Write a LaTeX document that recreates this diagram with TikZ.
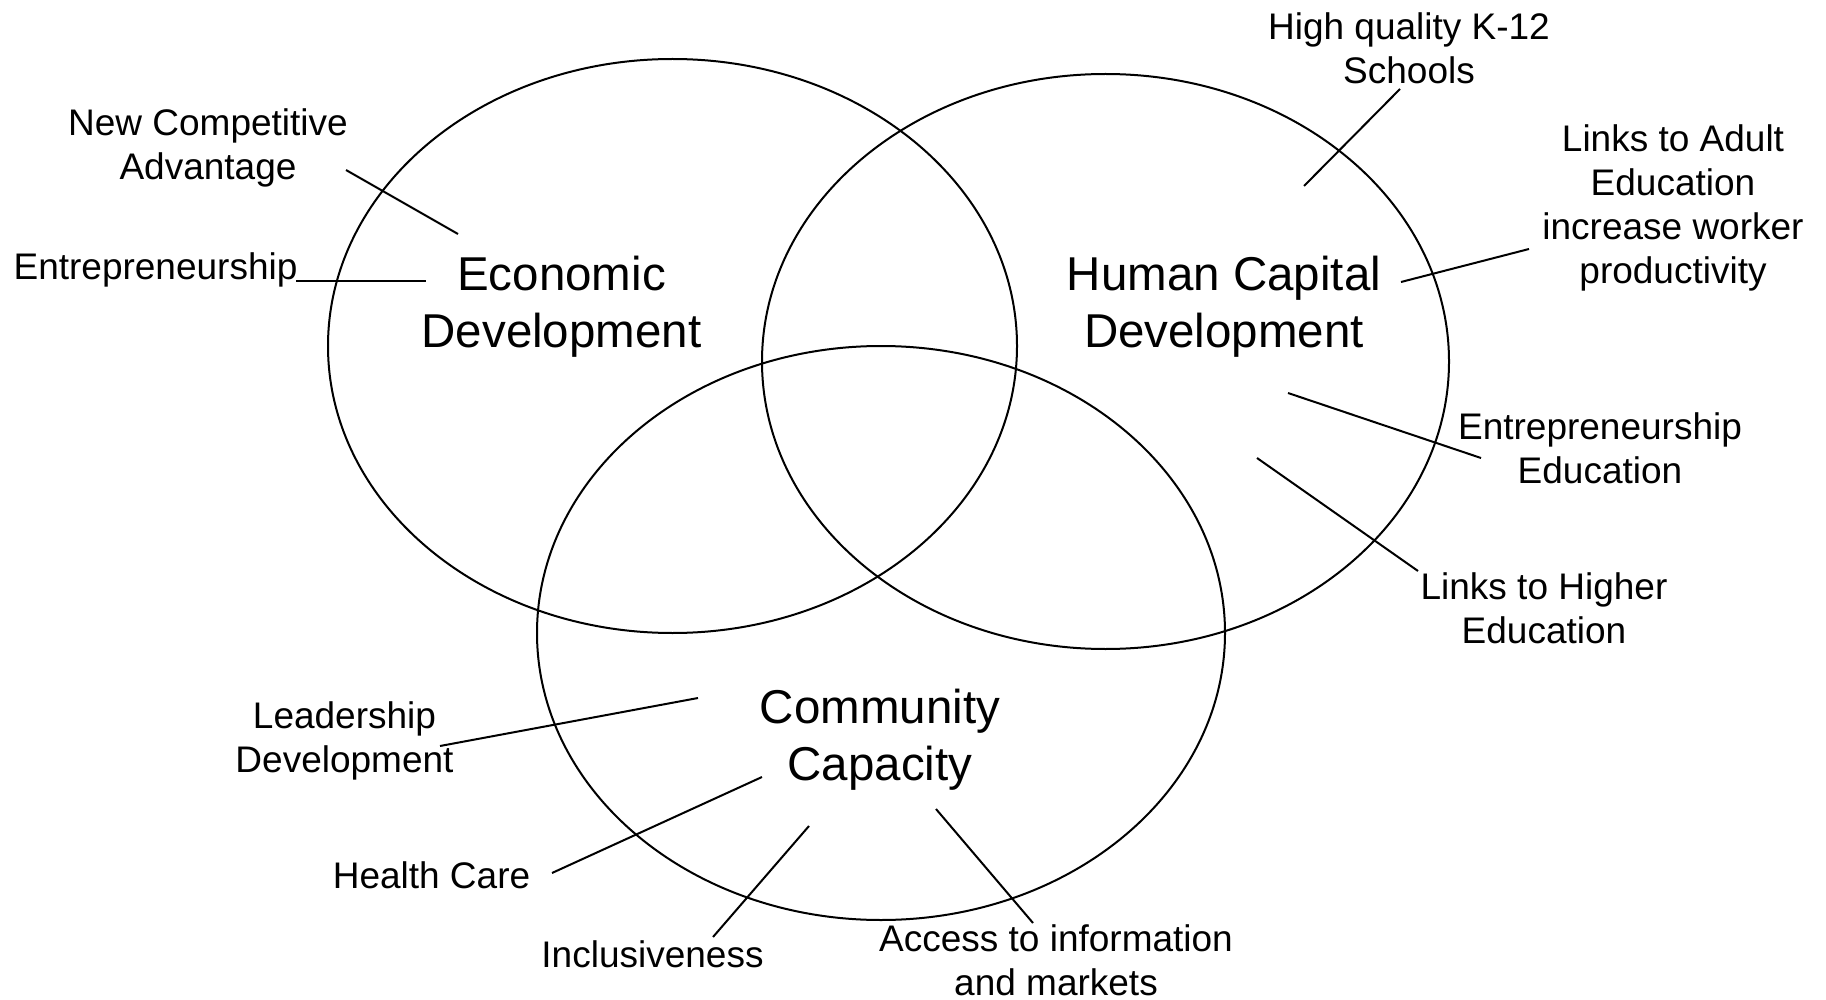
\documentclass[tikz,border=0pt]{standalone}
\usepackage{fontspec}
\setmainfont{Liberation Sans}
\begin{document}
\begin{tikzpicture}[x=1pt,y=-1pt,
  circ/.style={draw=black,line width=2pt},
  lead/.style={draw=black,line width=2pt},
  small/.style={inner sep=0pt,align=center,font=\fontsize{37}{44}\selectfont},
  big/.style={inner sep=0pt,align=center,font=\fontsize{47.5}{57}\selectfont}]
\useasboundingbox[fill=white] (0,0) rectangle (1826,1000);
% circles
\draw[circ] (672.5,346) ellipse [x radius=344.5pt, y radius=287pt];
\draw[circ] (1105.5,361.5) ellipse [x radius=343.5pt, y radius=287.5pt];
\draw[circ] (881,633) ellipse [x radius=344pt, y radius=287pt];
% main labels
\node[big] (eco) at (561.5,307.1) {\strut Economic\\\strut Development};
\node[big] (hum) at (1224,308.1) {\strut Human Capital\\\strut Development};
\node[big] (com) at (880,740.1) {\strut Community\\\strut Capacity};
% outer labels
\node[small] (nca) at (208,148.7) {\strut New Competitive\\\strut Advantage};
\node[small] (ent) at (155.5,271.2) {\strut Entrepreneurship};
\node[small] (k12) at (1409,52.7) {\strut High quality K-12\\\strut Schools};
\node[small] (adult) at (1673,209.2) {\strut Links to Adult\\\strut Education\\\strut increase worker\\\strut productivity};
\node[small] (eed) at (1600,452.7) {\strut Entrepreneurship\\\strut Education};
\node[small] (hig) at (1544,612.7) {\strut Links to Higher\\\strut Education};
\node[small] (lea) at (344.5,741.2) {\strut Leadership\\\strut Development};
\node[small] (hea) at (431.5,879.2) {\strut Health Care};
\node[small] (inc) at (652.5,958.2) {\strut Inclusiveness};
\node[small] (acc) at (1056,960.5) {Access to information\\and markets};
% connector end points
\coordinate (nca1) at (346,170);  \coordinate (nca2) at (458,234);
\coordinate (ent1) at (296,281);  \coordinate (ent2) at (426,281);
\coordinate (k121) at (1400,89);  \coordinate (k122) at (1304,186);
\coordinate (adu1) at (1529,249); \coordinate (adu2) at (1401,282);
\coordinate (eed1) at (1481,458); \coordinate (eed2) at (1288,393);
\coordinate (hig1) at (1418,571); \coordinate (hig2) at (1257,458);
\coordinate (lea1) at (440,746);  \coordinate (lea2) at (698,698);
\coordinate (hea1) at (552,873);  \coordinate (hea2) at (762,777);
\coordinate (inc1) at (713,937);  \coordinate (inc2) at (809,826);
\coordinate (acc1) at (1033,923); \coordinate (acc2) at (936,809);
% connectors
\draw[lead] (nca1) -- (nca2);
\draw[lead] (ent1) -- (ent2);
\draw[lead] (k121) -- (k122);
\draw[lead] (adu1) -- (adu2);
\draw[lead] (eed1) -- (eed2);
\draw[lead] (hig1) -- (hig2);
\draw[lead] (lea1) -- (lea2);
\draw[lead] (hea1) -- (hea2);
\draw[lead] (inc1) -- (inc2);
\draw[lead] (acc1) -- (acc2);
\end{tikzpicture}
\end{document}
